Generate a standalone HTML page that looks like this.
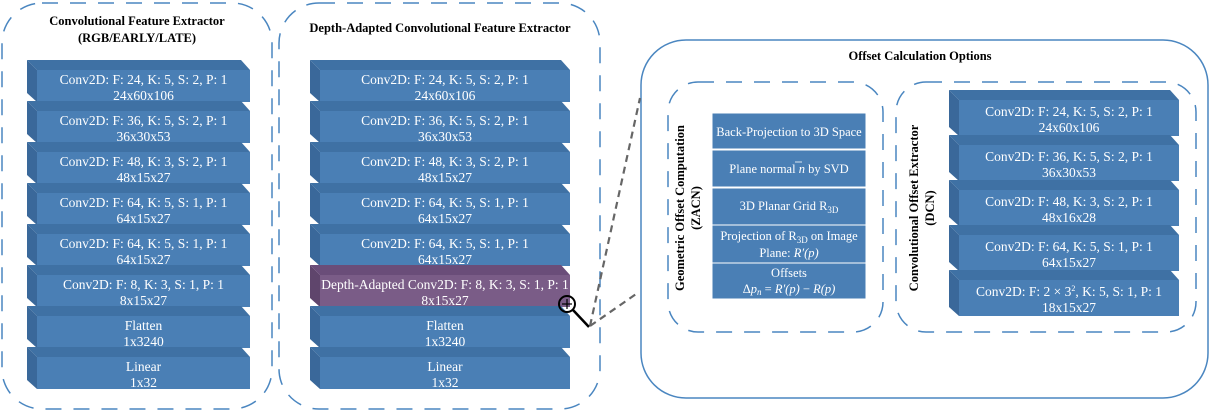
<!DOCTYPE html>
<html><head><meta charset="utf-8"><style>
body{margin:0;background:#fff;}
svg{display:block}
text{font-family:"Liberation Serif","Times New Roman",serif}
.t{font-size:13.5px;fill:#fff;text-anchor:middle}
.z{font-size:12.5px;fill:#fff;text-anchor:middle}
.h{font-size:12.5px;font-weight:bold;fill:#000;text-anchor:middle}
</style></head><body>
<svg width="1212" height="412" viewBox="0 0 1212 412" xmlns="http://www.w3.org/2000/svg" font-family="Liberation Serif, serif">
<g fill="none" stroke="#4a86c0" stroke-width="1.5" stroke-dasharray="16,12">
<rect x="2" y="3" width="270" height="406" rx="40"/>
<rect x="279" y="3" width="321" height="406" rx="40"/>
<rect x="668" y="82" width="215" height="250" rx="30"/>
<rect x="896" y="82" width="300" height="250" rx="30"/>
</g>
<rect x="641" y="40" width="567" height="358" rx="45" fill="none" stroke="#4a86c0" stroke-width="1.5"/>
<text class="h" x="137" y="25" font-family="Liberation Serif, serif">Convolutional Feature Extractor</text>
<text class="h" x="137" y="42" font-family="Liberation Serif, serif">(RGB/EARLY/LATE)</text>
<text class="h" x="440" y="32" font-family="Liberation Serif, serif">Depth-Adapted Convolutional Feature Extractor</text>
<text class="h" x="920" y="60" font-family="Liberation Serif, serif">Offset Calculation Options</text>
<text class="h" font-family="Liberation Serif, serif" transform="translate(684,208) rotate(-90)">Geometric Offset Computation</text>
<text class="h" font-family="Liberation Serif, serif" transform="translate(700,208) rotate(-90)">(ZACN)</text>
<text class="h" font-family="Liberation Serif, serif" transform="translate(918,208) rotate(-90)">Convolutional Offset Extractor</text>
<text class="h" font-family="Liberation Serif, serif" transform="translate(934,208) rotate(-90)">(DCN)</text>
<g id="blocks"></g>
<g fill="#4a7fb5" stroke="#fff" stroke-width="1">
<rect x="712" y="113" width="154" height="36"/>
<rect x="712" y="150" width="154" height="37"/>
<rect x="712" y="188" width="154" height="37"/>
<rect x="712" y="225" width="154" height="38"/>
<rect x="712" y="263" width="154" height="36"/>
</g>
<g font-family="Liberation Serif, serif">
<text class="z" x="789" y="136">Back-Projection to 3D Space</text>
<text class="z" x="789" y="173">Plane normal <tspan font-style="italic">n</tspan> by SVD</text>
<line x1="795" y1="162" x2="802" y2="162" stroke="#fff" stroke-width="0.8"/>
<text class="z" x="789" y="210">3D Planar Grid R<tspan font-size="9" dy="3">3D</tspan></text>
<text class="z" x="789" y="240">Projection  of R<tspan font-size="9" dy="3">3D</tspan><tspan dy="-3"> on Image</tspan></text>
<text class="z" x="789" y="257">Plane: <tspan font-style="italic">R′(p)</tspan></text>
<text class="z" x="789" y="277">Offsets</text>
<text class="z" x="789" y="293"><tspan>Δ</tspan><tspan font-style="italic">p</tspan><tspan font-size="9" dy="2" font-style="italic">n</tspan><tspan dy="-2"> = </tspan><tspan font-style="italic">R′(p)</tspan><tspan> − </tspan><tspan font-style="italic">R(p)</tspan></text>
</g>
<g stroke="#666" stroke-width="2.2" stroke-dasharray="7,5" fill="none">
<line x1="590" y1="326" x2="640" y2="98"/>
<line x1="590" y1="326" x2="639" y2="292"/>
</g>
<circle cx="567" cy="304" r="8" fill="none" stroke="#000" stroke-width="2"/>
<line x1="562" y1="304" x2="572" y2="304" stroke="#000" stroke-width="1.2"/>
<line x1="567" y1="299" x2="567" y2="309" stroke="#000" stroke-width="1.2"/>
<line x1="573" y1="310" x2="589" y2="327" stroke="#000" stroke-width="2.5"/>
<script>
var g=document.getElementById('blocks');var NS='http://www.w3.org/2000/svg';
function mk(t,a,txt,p){var e=document.createElementNS(NS,t);for(var k in a)e.setAttribute(k,a[k]);if(txt)e.textContent=txt;(p||g).appendChild(e);return e;}
function blk(x,x2,y,h,l1,l2,purple){
 var f=purple?'#7a5c87':'#4a7fb5',tp=purple?'#6a4d79':'#3f71a4',sd=purple?'#5f456c':'#3a689a';
 mk('polygon',{points:[x,y,x2-9,y,x2,y+10,x+10,y+10].join(','),fill:tp});
 mk('polygon',{points:[x,y,x+10,y+10,x+10,y+h,x,y+h-9].join(','),fill:sd});
 mk('rect',{x:x+10,y:y+10,width:x2-x-10,height:h-10,fill:f});
 var cx=(x+10+x2)/2,cy=y+10+(h-10)/2;
 var t1=mk('text',{'class':'t',x:cx,y:cy-2,'font-family':'Liberation Serif, serif'});
 if(typeof l1==='string')t1.textContent=l1;else l1.forEach(function(s){mk('tspan',s[1],s[0],t1);});
 mk('text',{'class':'t',x:cx,y:cy+14,'font-family':'Liberation Serif, serif'},l2);
}
var L=[["Conv2D: F: 24, K: 5, S: 2, P: 1","24x60x106"],["Conv2D: F: 36, K: 5, S: 2, P: 1","36x30x53"],["Conv2D: F: 48, K: 3, S: 2, P: 1","48x15x27"],["Conv2D: F: 64, K: 5, S: 1, P: 1","64x15x27"],["Conv2D: F: 64, K: 5, S: 1, P: 1","64x15x27"],["Conv2D: F: 8, K: 3, S: 1, P: 1","8x15x27"],["Flatten","1x3240"],["Linear","1x32"]];
for(var i=0;i<8;i++){var y=60+41*i;blk(27,250,y,42,L[i][0],L[i][1]);
 if(i==5)blk(310,570,y,42,"Depth-Adapted Conv2D: F: 8, K: 3, S: 1, P: 1","8x15x27",true);else blk(310,570,y,42,L[i][0],L[i][1]);}
var D=[["Conv2D: F: 24, K: 5, S: 2, P: 1","24x60x106"],["Conv2D: F: 36, K: 5, S: 2, P: 1","36x30x53"],["Conv2D: F: 48, K: 3, S: 2, P: 1","48x16x28"],["Conv2D: F: 64, K: 5, S: 1, P: 1","64x15x27"],[[["Conv2D: F: 2 × 3",{}],["2",{'font-size':'8',dy:'-5'}],[", K: 5, S: 1, P: 1",{dy:'5'}]],"18x15x27"]];
for(var j=0;j<5;j++)blk(949,1179,90+45*j,46,D[j][0],D[j][1]);
</script>
</svg>
</body></html>
